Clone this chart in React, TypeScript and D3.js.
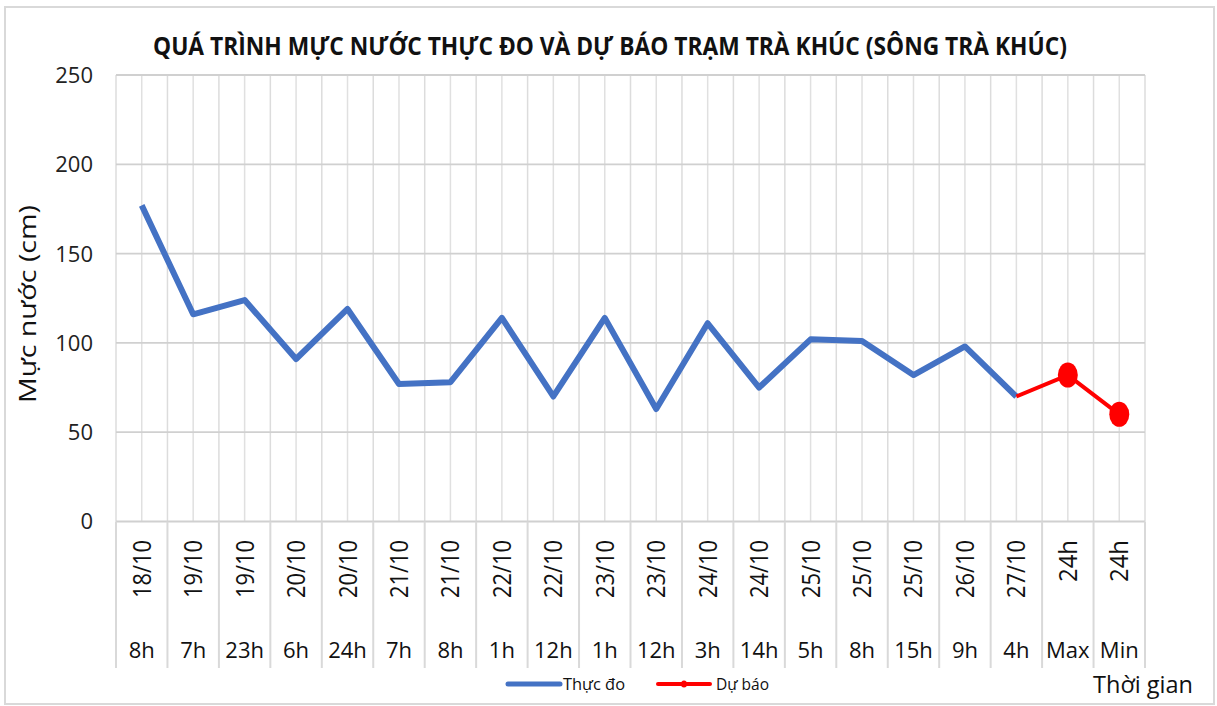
import React from "react";
import * as d3 from "d3";

// category labels (two levels) and series values
const dateLabels = ["18/10", "19/10", "19/10", "20/10", "20/10", "21/10", "21/10", "22/10", "22/10", "23/10",
  "23/10", "24/10", "24/10", "25/10", "25/10", "25/10", "26/10", "27/10", "24h", "24h"];
const hourLabels = ["8h", "7h", "23h", "6h", "24h", "7h", "8h", "1h", "12h", "1h",
  "12h", "3h", "14h", "5h", "8h", "15h", "9h", "4h", "Max", "Min"];
const observed = [177, 116, 124, 91, 119, 77, 78, 114, 70, 114, 63, 111, 75, 102, 101, 82, 98, 70, null, null];
const forecast = [null, null, null, null, null, null, null, null, null, null,
  null, null, null, null, null, null, null, 70, 82, 60];
const forecastMarkers = [false, false, false, false, false, false, false, false, false, false,
  false, false, false, false, false, false, false, false, true, true];
const yTicks = [0, 50, 100, 150, 200, 250];

const title = "QUÁ TRÌNH MỰC NƯỚC THỰC ĐO VÀ DỰ BÁO TRẠM TRÀ KHÚC (SÔNG TRÀ KHÚC)";
const font = "'Open Sans', 'DejaVu Sans', sans-serif";

export default function App() {
  const W = 1217, H = 706;
  const left = 116, right = 1145, top = 75, bottom = 521.5;

  const idx = dateLabels.map((_, i) => String(i));
  const x = d3.scaleBand().domain(idx).range([left, right]).paddingInner(0).paddingOuter(0);
  const y = d3.scaleLinear().domain([0, 250]).range([bottom, top]);
  const cx = (i: number) => (x(String(i)) as number) + x.bandwidth() / 2;

  const line = d3.line<number | null>()
    .defined(d => d !== null)
    .x((_, i) => cx(i))
    .y(d => y(d as number));

  const boundaries = d3.range(idx.length + 1).map(i => left + i * x.step());
  const centers = idx.map((_, i) => cx(i));

  return (
    <svg width={W} height={H} style={{ position: "fixed", top: 0, left: 0, background: "#fff" }}
      fontFamily={font}>
      <rect x={5} y={7} width={1209} height={697} fill="#fff" stroke="#d9d9d9" strokeWidth={2} />

      <text x={610} y={55} textAnchor="middle" fontSize={25} fontWeight="bold" fill="#111"
        textLength={914} lengthAdjust="spacingAndGlyphs">{title}</text>

      {/* vertical gridlines: category centers and boundaries */}
      {centers.map((v, i) => (
        <line key={"c" + i} x1={v} x2={v} y1={top} y2={bottom} stroke="#e0e0e0" strokeWidth={1.5} />
      ))}
      {boundaries.map((v, i) => (
        <line key={"b" + i} x1={v} x2={v} y1={top} y2={bottom} stroke="#dcdcdc" strokeWidth={1.5} />
      ))}
      {/* horizontal gridlines */}
      {yTicks.map(t => (
        <line key={"h" + t} x1={left} x2={right} y1={y(t)} y2={y(t)} stroke="#d0d0d0" strokeWidth={1.8} />
      ))}

      {/* y axis labels */}
      {yTicks.map(t => (
        <text key={"yt" + t} x={93} y={y(t)} dy="0.36em" textAnchor="end" fontSize={22} fill="#222">{t}</text>
      ))}
      <text transform={`translate(36,304) rotate(-90)`} textAnchor="middle" fontSize={24} fill="#111"
        textLength={198} lengthAdjust="spacingAndGlyphs">Mực nước (cm)</text>

      {/* multi-level category axis */}
      {boundaries.map((v, i) => (
        <line key={"s" + i} x1={v} x2={v} y1={bottom} y2={668} stroke="#d9d9d9" strokeWidth={2} />
      ))}
      {dateLabels.map((d, i) => (
        <text key={"d" + i} transform={`translate(${cx(i)},540) rotate(-90)`} dy="0.36em" textAnchor="end"
          fontSize={25} fill="#111"
          {...(d.includes("/") ? { textLength: 58, lengthAdjust: "spacingAndGlyphs" } : { textLength: 42, lengthAdjust: "spacingAndGlyphs" })}>{d}</text>
      ))}
      {hourLabels.map((h, i) => (
        <text key={"hr" + i} x={cx(i)} y={658} textAnchor="middle" fontSize={22} fill="#111">{h}</text>
      ))}
      <text x={1093} y={693} fontSize={24} fill="#111" textLength={100} lengthAdjust="spacingAndGlyphs">Thời gian</text>

      {/* series */}
      <path d={line(observed) || ""} fill="none" stroke="#4472C4" strokeWidth={6} strokeLinejoin="round" />
      <path d={line(forecast) || ""} fill="none" stroke="#FF0000" strokeWidth={4} strokeLinejoin="round" />
      {forecast.map((v, i) => (v !== null && forecastMarkers[i]) ? (
        <ellipse key={"m" + i} cx={cx(i)} cy={y(v)} rx={10} ry={12.5} fill="#FF0000" />
      ) : null)}

      {/* legend */}
      <line x1={508} x2={560} y1={684} y2={684} stroke="#4472C4" strokeWidth={5} strokeLinecap="round" />
      <text x={563} y={684} dy="0.36em" fontSize={16} fill="#111" textLength={62} lengthAdjust="spacingAndGlyphs">Thực đo</text>
      <line x1={658} x2={710} y1={684} y2={684} stroke="#FF0000" strokeWidth={4} strokeLinecap="round" />
      <ellipse cx={684} cy={684} rx={3} ry={3.5} fill="#FF0000" />
      <text x={716} y={684} dy="0.36em" fontSize={16} fill="#111" textLength={53} lengthAdjust="spacingAndGlyphs">Dự báo</text>
    </svg>
  );
}
